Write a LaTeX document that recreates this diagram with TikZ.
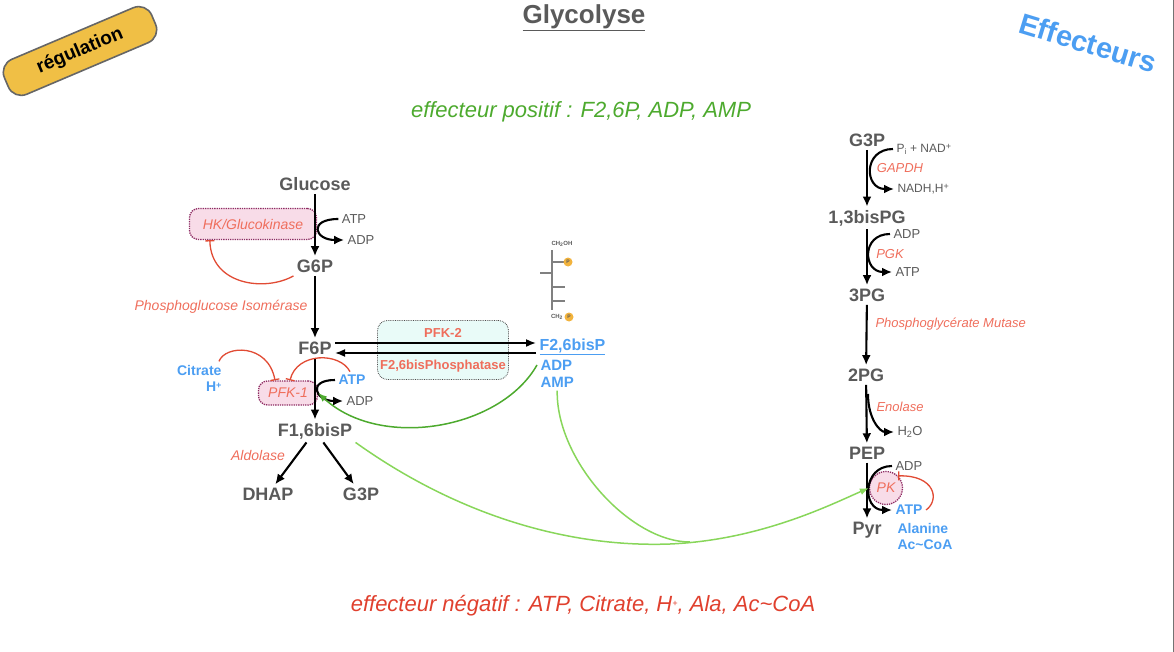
\documentclass[tikz,border=0pt]{standalone}
\usepackage{fontspec}
\setmainfont{Liberation Sans}
\usetikzlibrary{positioning,arrows.meta}

\definecolor{txtgray}{HTML}{5A5A5A}
\definecolor{enzred}{HTML}{EF6E5C}
\definecolor{effblue}{HTML}{4C9EF2}
\definecolor{inhred}{HTML}{E14B34}
\definecolor{actgreen}{HTML}{4DAA2E}
\definecolor{lightgreen}{HTML}{88D65A}
\definecolor{boxpink}{HTML}{F8DCE8}
\definecolor{boxline}{HTML}{8E2C63}
\definecolor{cyanfill}{HTML}{E9FBF8}
\definecolor{badgegold}{HTML}{F0BF45}
\definecolor{porange}{HTML}{F2B33D}
\definecolor{negred}{HTML}{E0402E}

\newcommand\fsz[1]{\fontsize{#1}{#1}\selectfont}
\newcommand\smallsup[1]{\raisebox{0.45ex}{\fontsize{9}{9}\selectfont #1}}

\begin{document}
\begin{tikzpicture}[x=1pt, y=-1pt,
  met/.style={text=txtgray, font=\fsz{18}\bfseries},
  cof/.style={text=txtgray, font=\fsz{13}},
  eff/.style={text=effblue, font=\fsz{14}\bfseries},
  enz/.style={text=enzred, font=\fsz{14}\itshape},
  enzbox/.style={enz, draw=boxline, densely dotted, line width=1.3pt, fill=boxpink, rounded corners=9pt, inner sep=0pt},
  react/.style={-{Latex[length=10pt,width=9pt]}, line width=2.1pt},
  inhib/.style={-{Bar[width=9pt]}, draw=inhred, line width=1.3pt},
  activ/.style={-{Latex[length=9pt,width=7pt]}, line width=1.5pt}]
\useasboundingbox (0,0) rectangle (1174,652);
\draw[black!55, line width=1pt] (1173,0) -- (1173,652);

% titles
\node (reg) [draw=black!60, line width=1.6pt, fill=badgegold, rounded corners=14pt, minimum width=160pt, minimum height=38pt, rotate=23, font=\fsz{19}\bfseries] at (80,51) {régulation};
\node (title) [text=txtgray, font=\fsz{26}\bfseries] at (584,18) {\underline{Glycolyse}};
\node (effs) [text=effblue, rotate=-17, font=\fsz{29}\bfseries] at (1088,43) {Effecteurs};
\node (pos) [text=actgreen, font=\fsz{22}\itshape] at (581,112) {effecteur positif : F2,6P, ADP, AMP};
\node (neg) [text=negred, font=\fsz{22}\itshape] at (583,606) {effecteur négatif : ATP, Citrate, H\smallsup{+}, Ala, Ac\textasciitilde CoA};

% left part
\node (hk) [enzbox, minimum width=127pt, minimum height=31pt] at (253,224) {HK/Glucokinase};
\node (pfk1) [enzbox, minimum width=59pt, minimum height=24pt] at (288,393) {PFK-1};
\node (glc) [met] at (315,184) {Glucose};
\node (g6p) [met] at (315,266) {G6P};
\node (f6p) [met] at (315,348) {F6P};
\node (f16bp) [met] at (315,431) {F1,6bisP};
\node (dhap) [met] at (268,494) {DHAP};
\node (g3pl) [met] at (361,494) {G3P};
\node (atp1) [cof] at (354,219) {ATP};
\node (adp1) [cof] at (361,240) {ADP};
\node (atp2) [eff] at (352,380) {ATP};
\node (adp2) [cof] at (360,401) {ADP};
\node (citr) [eff, anchor=east] at (225,370) {Citrate};
\node (hplus) [eff, anchor=east] at (225,387) {H\smallsup{+}};
\node (pgi) [enz] at (221,307) {Phosphoglucose Isomérase};
\node (aldo) [enz] at (258,455) {Aldolase};

\draw[react] (glc) -- (g6p);
\draw[react] (g6p) -- (f6p);
\draw[react] (f6p) -- (f16bp);
\draw[react] (f16bp) -- (dhap);
\draw[react] (f16bp) -- (g3pl);
\draw[react] (atp1.west) .. controls +(-30,0) and +(-30,0) .. (adp1.west);
\draw[react] (atp2.west) .. controls +(-28,0) and +(-28,0) .. (adp2.west);

\draw[inhib] (g6p.south west) .. controls (265,292) and (211,285) .. ([xshift=21pt]hk.south west);
\draw[inhib] ([xshift=-6pt]citr.north east) .. controls (225,345) and (268,343) .. ([xshift=-13pt]pfk1.north);
\draw[inhib] ([xshift=-2pt]atp2.north) .. controls (340,352) and (297,352) .. ([xshift=2pt]pfk1.north);

% PFK-2 / F2,6bisP
\node (pfk2) [draw=black!70, densely dotted, line width=0.8pt, fill=cyanfill, rounded corners=10pt, minimum width=131pt, minimum height=59pt] at (443,350) {};
\node (pfk2lbl) [text=enzred, font=\fsz{13}\bfseries] at (443,333) {PFK-2};
\node (f26pase) [text=enzred, font=\fsz{13}\bfseries] at (443,366) {F2,6bisPhosphatase};
\node (f26) [text=effblue, font=\fsz{16}\bfseries, anchor=west] at (536,347) {\underline{F2,6bisP}};
\node (adpm) [eff, font=\fsz{15}\bfseries, anchor=west] at (537,365) {ADP};
\node (amp) [eff, font=\fsz{15}\bfseries, anchor=west] at (537,382) {AMP};

\draw[-{Latex[length=10pt,width=8pt]}, line width=1.6pt] ([yshift=5pt]f6p.east) -- ([yshift=5pt]f6p.east -| f26.west);
\draw[-{Latex[length=10pt,width=8pt]}, line width=1.6pt] ([yshift=-5pt]f6p.east -| f26.west) -- ([yshift=-5pt]f6p.east);

% structure
\draw[black!50, line width=1.1pt] (552,250) -- (552,310)
  (552,262) -- (564,262) (540,273) -- (552,273)
  (552,287) -- (565,287) (552,301) -- (565,301);
\node (ch2oh) [text=txtgray, font=\fsz{6}\bfseries] at (562,244) {CH\textsubscript{2}OH};
\node (ch2) [text=txtgray, font=\fsz{6}\bfseries] at (557,317) {CH\textsubscript{2}};
\node (pa) [circle, fill=porange, inner sep=0pt, minimum size=9pt, text=txtgray, font=\fsz{5}\bfseries] at (568,262) {P};
\node (pb) [circle, fill=porange, inner sep=0pt, minimum size=9pt, text=txtgray, font=\fsz{5}\bfseries] at (569,317) {P};

% right part
\node (pk) [enzbox, circle, minimum size=33pt] at (886,488) {PK};
\node (g3pr) [met] at (867,140) {G3P};
\node (b13pg) [met] at (867,218) {1,3bisPG};
\node (pg3) [met] at (867,295) {3PG};
\node (pg2) [met] at (866,375) {2PG};
\node (pep) [met] at (867,453) {PEP};
\node (pyr) [met] at (867,530) {Pyr};

\node (pinad) [cof, font=\fsz{12}, anchor=west] at (893,149) {P\textsubscript{i} + NAD\smallsup{+}};
\node (nadh) [cof, font=\fsz{12}, anchor=west] at (894,189) {NADH,H\smallsup{+}};
\node (gapdh) [enz, font=\fsz{13}\itshape] at (900,168) {GAPDH};
\node (adpr) [cof, anchor=west] at (890,234) {ADP};
\node (pgk) [enz, font=\fsz{13}\itshape] at (890,254) {PGK};
\node (atpr) [cof, anchor=west] at (892,272) {ATP};
\node (pgm) [enz, font=\fsz{13}\itshape, anchor=west] at (872,324) {Phosphoglycérate Mutase};
\node (eno) [enz, font=\fsz{13}\itshape] at (900,407) {Enolase};
\node (h2o) [cof, anchor=west] at (894,432) {H\textsubscript{2}O};
\node (adpk) [cof, anchor=west] at (892,466) {ADP};
\node (atpk) [eff, anchor=west] at (892,510) {ATP};
\node (ala) [eff, anchor=west] at (894,528) {Alanine};
\node (accoa) [eff, anchor=west] at (894,545) {Ac\textasciitilde CoA};
\coordinate (enoout) at (868,394);

\draw[react] (g3pr) -- (b13pg);
\draw[react] (b13pg) -- (pg3);
\draw[react] (pg3) -- (pg2);
\draw[react] (pg2) -- (pep);
\draw[react] (pep) -- (pyr);
\draw[react] (pinad.west) .. controls +(-30,0) and +(-30,0) .. (nadh.west);
\draw[react] (adpr.west) .. controls +(-29,0) and +(-29,0) .. (atpr.west);
\draw[react] (enoout) .. controls +(0,25) and +(-14,0) .. (h2o.west);
\draw[react] (adpk.west) .. controls +(-30,0) and +(-30,0) .. (atpk.west);
\draw[inhib] (atpk.east) .. controls (940,500) and (935,475) .. (pk.north east);

% activations
\draw[activ, draw=actgreen] (adpm.west) .. controls (500,430) and (380,450) .. (pfk1.east);
\draw[activ, draw=lightgreen] (f16bp.south east) .. controls (450,510) and (560,548) .. (670,544) .. controls (760,540) and (830,505) .. (pk.west);
\draw[lightgreen, line width=1.5pt] (amp.south) .. controls (556,460) and (630,542) .. (690,542);
\end{tikzpicture}
\end{document}
